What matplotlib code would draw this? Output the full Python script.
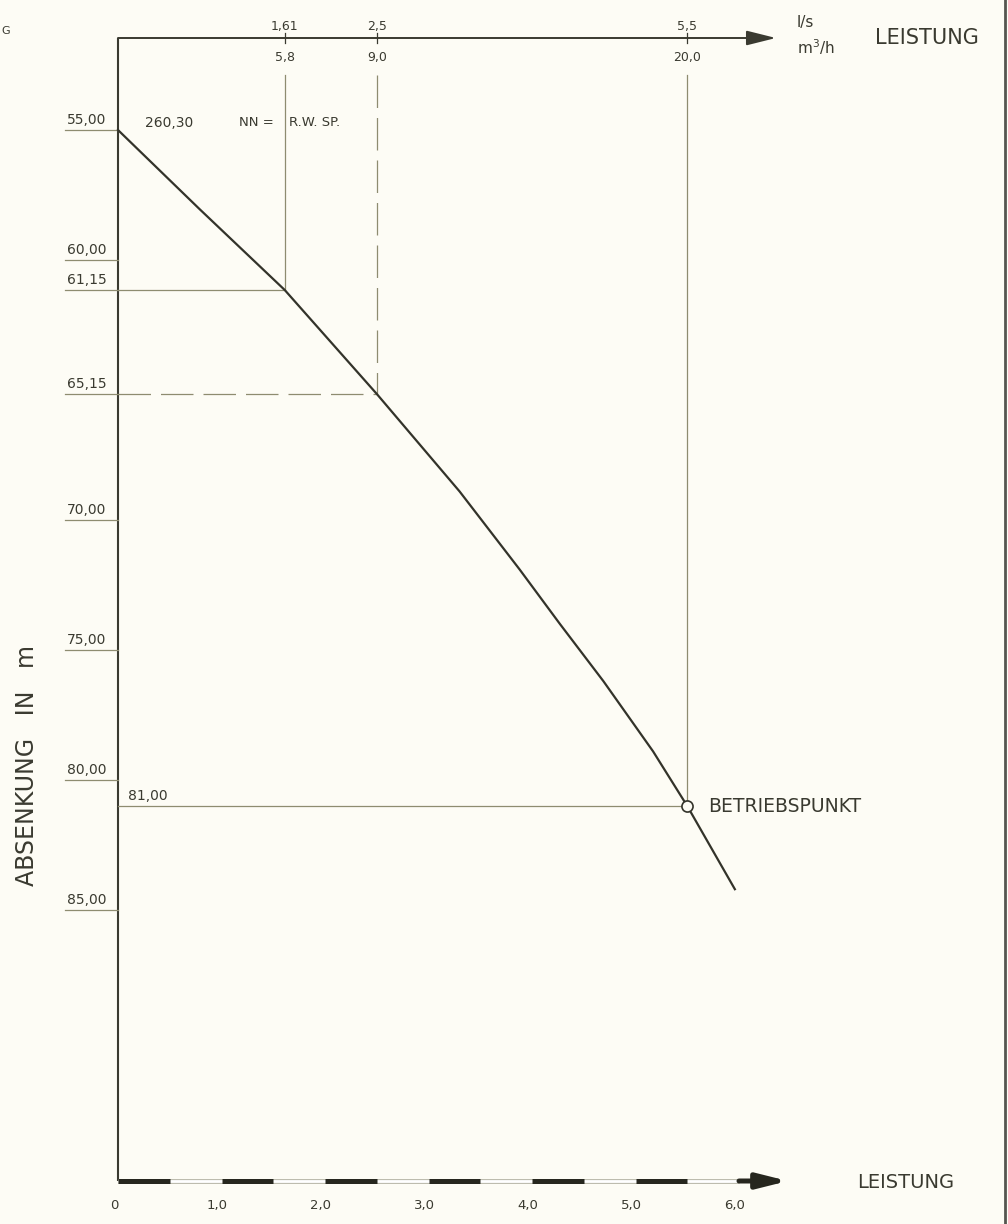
import numpy as np
import matplotlib.pyplot as plt

# Pump test chart: drawdown (Absenkung) vs. discharge (Leistung)

# Drawdown curve (x in l/s, y in m)
flow_ls = [0.0, 0.79, 1.61, 2.5, 3.3, 3.88, 4.27, 4.69, 5.17, 5.5, 5.96]
drawdown_m = [55.0, 58.05, 61.15, 65.15, 68.9, 71.9, 74.0, 76.2, 78.9, 81.0, 84.2]

# Left scale labels (depth in m)
depth_ticks = [55.0, 60.0, 61.15, 65.15, 70.0, 75.0, 80.0, 85.0]
depth_labels = ['55,00', '60,00', '61,15', '65,15', '70,00', '75,00', '80,00', '85,00']

# Bottom scale (l/s)
bottom_ticks = [0, 1, 2, 3, 4, 5, 6]
bottom_labels = ['0', '1,0', '2,0', '3,0', '4,0', '5,0', '6,0']

# Top scale: marked discharges in l/s and m3/h
top_ls = [1.61, 2.5, 5.5]
top_ls_labels = ['1,61', '2,5', '5,5']
top_m3h_labels = ['5,8', '9,0', '20,0']
top_depths = [61.15, 65.15, 81.0]

# Operating point
op_flow = 5.5
op_depth = 81.0
ground_level = '260,30'

bg = '#fdfcf5'
ink = '#3a3a30'
thin = '#8e8c70'

fig = plt.figure(figsize=(10.08, 12.24), dpi=100, facecolor=bg)
ax = fig.add_axes([0, 0, 1, 1])
ax.set_facecolor(bg)
ax.set_xlim(-118 / 103.5, (1008 - 118) / 103.5)
ax.set_ylim(55 + (1224 - 130) / 26, 55 - 130 / 26)
ax.axis('off')

y_top = 55 + (38 - 130) / 26
y_bot = 55 + (1181 - 130) / 26
y_guide = 55 + (75 - 130) / 26

# Axes lines
ax.plot([0, 0], [y_top, y_bot], color=ink, lw=1.5, solid_capstyle='butt')
ax.annotate('', xy=(6.357, y_top), xytext=(0, y_top),
            arrowprops=dict(arrowstyle='-|>,head_length=0.4,head_width=0.1',
                            mutation_scale=45, color=ink, lw=1.4,
                            shrinkA=0, shrinkB=0))

# Bottom axis, black/white striped
ax.plot([0, bottom_ticks[-1]], [y_bot, y_bot], color='#bdbcae', lw=3.6, solid_capstyle='butt')
ax.plot([0, bottom_ticks[-1]], [y_bot, y_bot], color='#ffffff', lw=2.0, solid_capstyle='butt')
for t in bottom_ticks[:-1]:
    ax.plot([t, t + 0.5], [y_bot, y_bot], color='#26261e', lw=3.6, solid_capstyle='butt')
ax.annotate('', xy=(6.473, y_bot), xytext=(bottom_ticks[-1], y_bot),
            arrowprops=dict(arrowstyle='-|>,head_length=0.4,head_width=0.1',
                            mutation_scale=45, color='#26261e', lw=3.6,
                            shrinkA=0, shrinkB=0))

# Depth labels with underline
for v, lab in zip(depth_ticks, depth_labels):
    ax.plot([-0.512, 0], [v, v], color=thin, lw=0.9)
    ax.text(-0.493, v - 0.12, lab, fontsize=10, color=ink, ha='left', va='bottom')

# Guide lines to the curve
ax.plot([0, top_ls[0]], [top_depths[0], top_depths[0]], color=thin, lw=0.9)
ax.plot([top_ls[0], top_ls[0]], [y_guide, top_depths[0]], color=thin, lw=0.9)
ax.plot([0, top_ls[1]], [top_depths[1], top_depths[1]], color=thin, lw=0.9, dashes=(26, 8))
ax.plot([top_ls[1], top_ls[1]], [y_guide, top_depths[1]], color=thin, lw=0.9, dashes=(26, 8))
ax.plot([0, op_flow], [op_depth, op_depth], color=thin, lw=0.9)
ax.plot([op_flow, op_flow], [y_guide, op_depth], color=thin, lw=0.9)

# Top axis ticks and labels
for x, l1, l2 in zip(top_ls, top_ls_labels, top_m3h_labels):
    ax.plot([x, x], [y_top - 0.2, y_top + 0.2], color=ink, lw=0.9)
    ax.text(x, 51.0, l1, fontsize=9, color=ink, ha='center', va='center')
    ax.text(x, 52.23, l2, fontsize=9, color=ink, ha='center', va='center')

ax.text(6.56, 50.85, 'l/s', fontsize=11, color=ink, ha='left', va='center')
ax.text(6.56, 51.81, 'm$^3$/h', fontsize=11, color=ink, ha='left', va='center')
ax.text(7.314, y_top, 'LEISTUNG', fontsize=15, color=ink, ha='left', va='center')
ax.text(7.14, 95.5, 'LEISTUNG', fontsize=14, color=ink, ha='left', va='center')

# Bottom tick labels
for t, lab in zip(bottom_ticks, bottom_labels):
    ax.text(t - 0.04, 96.35, lab, fontsize=9.5, color=ink, ha='center', va='center')

# Drawdown curve and operating point
ax.plot(flow_ls, drawdown_m, color='#33332a', lw=1.6, zorder=4)
ax.plot([op_flow], [op_depth], 'o', ms=8, mfc=bg, mec='#33332a', mew=1.2, zorder=5)
ax.text(5.70, op_depth, 'BETRIEBSPUNKT', fontsize=13.5, color=ink, ha='left', va='center')
ax.text(0.097, op_depth - 0.12, '81,00', fontsize=10, color=ink, ha='left', va='bottom')

# Annotations near the top
ax.text(0.493, 54.73, ground_level, fontsize=10, color=ink, ha='center', va='center')
ax.text(1.333, 54.73, 'NN =', fontsize=9.5, color=ink, ha='center', va='center')
ax.text(1.652, 54.73, 'R.W. SP.', fontsize=9.5, color=ink, ha='left', va='center')
ax.text(-1.13, 51.2, 'G', fontsize=8, color=ink, ha='left', va='center')

ax.text(-0.879, 79.46, 'ABSENKUNG   IN   m', fontsize=17, color=ink,
        rotation=90, ha='center', va='center')

# right edge of the scanned sheet
fig.add_artist(plt.Line2D([1005 / 1008, 1005 / 1008], [0, 1], color='#555550', lw=2))

fig.savefig('out.png', dpi=100, facecolor=bg)
